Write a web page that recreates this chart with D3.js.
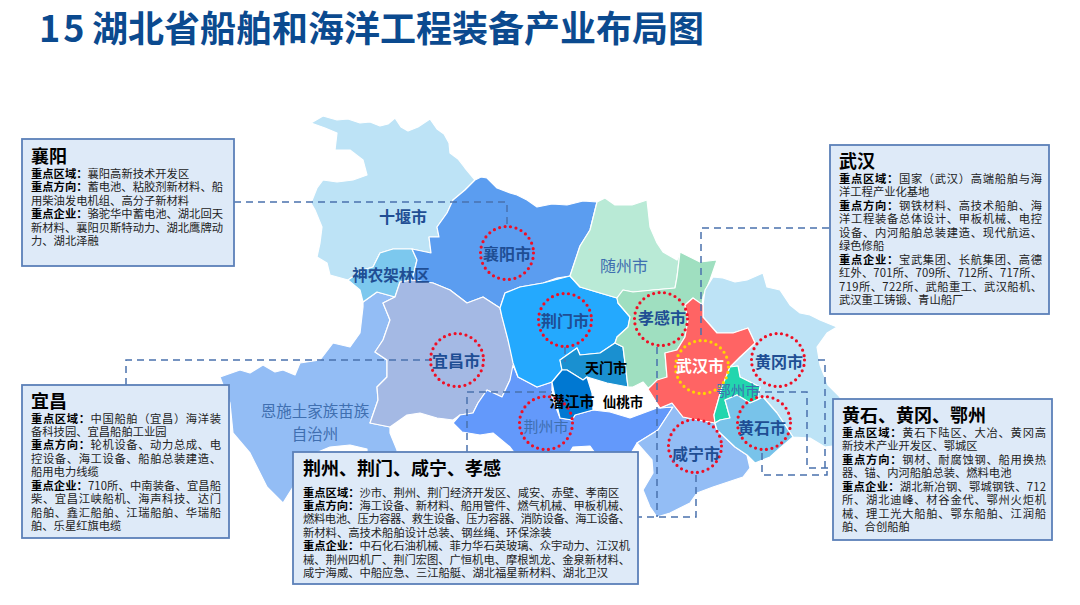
<!DOCTYPE html>
<html>
<head>
<meta charset="utf-8">
<script src="https://cdn.jsdelivr.net/npm/d3@7"></script>
<style>
  html, body { margin: 0; background: #fff; }
  svg { display: block; font-family: "Noto Sans CJK SC", "Noto Sans", sans-serif; }
</style>
</head>
<body>
<svg id="map" width="1080" height="605"></svg>
<script>
// outlines are in the planar map units of the slide, traced by eye
const shiyan = [[311,123],[323,116],[337,120],[348,119],[360,123],[370,122],[380,126],[388,124],[395,118],[401,127],[408,131],[418,127],[430,119],[437,129],[444,134],[449,143],[450,153],[458,159],[465,168],[475,180],[465,190],[453,200],[447,213],[437,227],[439,237],[429,237],[431,253],[412,249],[393,249],[380,253],[373,267],[363,270],[348,280],[330,275],[327,263],[317,257],[320,243],[322,227],[315,210],[311,203],[317,188],[323,180],[337,182],[353,180],[367,175],[363,160],[350,150],[335,150],[337,133],[325,128]];
const shennongjia = [[380,253],[393,249],[412,249],[417,260],[412,280],[400,282],[395,297],[377,292],[363,302],[360,290],[348,280],[363,270],[373,267]];
const xiangyang = [[475,180],[481,177],[487,178],[497,188],[510,193],[517,195],[527,200],[537,207],[552,204],[567,205],[583,201],[597,202],[590,230],[580,246],[572,270],[570,276],[557,278],[543,283],[520,287],[505,293],[500,308],[483,297],[467,303],[450,290],[433,283],[412,280],[417,260],[412,249],[431,253],[429,237],[439,237],[437,227],[447,213],[453,200],[465,190]];
const yichang = [[500,308],[510,347],[515,365],[510,380],[502,397],[487,390],[478,403],[473,413],[460,415],[453,420],[437,418],[420,413],[407,415],[390,427],[370,423],[378,400],[377,387],[387,377],[387,360],[375,352],[383,340],[390,320],[383,303],[395,297],[400,282],[412,280],[433,283],[450,290],[467,303],[483,297]];
const enshi = [[363,302],[377,292],[395,297],[383,303],[390,320],[383,340],[375,352],[387,360],[387,377],[377,387],[378,400],[370,423],[390,427],[390,433],[397,450],[397,470],[367,470],[367,449],[350,445],[330,447],[318,452],[300,470],[293,487],[283,503],[267,487],[257,467],[250,453],[233,433],[230,403],[220,377],[240,370],[250,373],[263,365],[275,372],[283,370],[295,375],[300,363],[320,360],[333,343],[350,347],[360,333],[363,307]];
const jingzhou = [[453,423],[460,415],[473,413],[478,403],[487,390],[502,397],[510,380],[513,365],[518,377],[537,387],[552,382],[552,397],[560,418],[572,420],[575,415],[593,410],[610,412],[630,418],[657,408],[673,407],[658,430],[637,443],[627,460],[600,460],[590,446],[573,447],[565,460],[520,460],[510,447],[493,433],[480,435],[468,433],[462,432]];
const jingmen = [[500,308],[505,293],[520,287],[543,283],[570,276],[580,287],[600,293],[617,298],[618,303],[630,317],[628,327],[617,337],[615,343],[600,353],[580,355],[577,348],[560,360],[562,370],[552,382],[537,387],[518,377],[513,363],[508,340],[502,317]];
const tianmen = [[560,360],[577,348],[580,355],[600,353],[615,343],[623,347],[625,363],[628,387],[607,383],[587,377],[583,380],[567,370],[562,370]];
const qianjiang = [[562,370],[567,370],[583,380],[587,377],[592,393],[593,410],[575,415],[572,420],[560,418],[555,397],[552,382]];
const xiaogan = [[617,298],[623,290],[633,292],[653,290],[675,288],[677,277],[680,252],[690,257],[700,262],[717,260],[710,280],[703,297],[702,305],[693,298],[685,305],[688,320],[685,337],[677,350],[665,353],[667,377],[648,388],[643,382],[633,387],[628,387],[625,363],[623,347],[615,343],[617,337],[628,327],[630,317],[618,303]];
const suizhou = [[597,202],[605,198],[615,205],[632,205],[647,200],[650,227],[657,243],[663,252],[677,260],[680,252],[677,277],[675,288],[653,290],[633,292],[623,290],[617,298],[600,293],[580,287],[570,276],[572,270],[580,246],[590,230]];
const wuhan = [[693,298],[703,305],[703,317],[717,333],[733,333],[748,328],[755,343],[740,357],[730,367],[722,387],[714,415],[715,423],[693,419],[683,417],[672,403],[660,408],[648,389],[657,380],[667,377],[665,353],[677,350],[685,337],[688,320],[685,305]];
const huanggang = [[703,305],[705,290],[713,277],[723,278],[735,282],[747,280],[763,273],[767,287],[780,290],[790,305],[800,313],[810,315],[820,320],[837,327],[827,333],[817,347],[820,365],[828,385],[840,397],[840,445],[825,447],[810,438],[793,437],[777,413],[763,397],[757,400],[760,387],[740,377],[738,366],[730,367],[740,357],[755,343],[748,328],[733,333],[717,333],[703,317]];
const ezhou = [[730,367],[738,366],[740,377],[760,387],[757,400],[750,403],[737,395],[725,400],[730,418],[720,420],[715,423],[714,415],[722,387]];
const huangshi = [[725,400],[737,395],[750,403],[757,400],[763,397],[777,413],[793,437],[780,448],[770,457],[755,463],[747,455],[735,447],[717,430],[715,423],[720,420],[730,418]];
const xianning = [[660,408],[672,403],[683,417],[693,419],[715,423],[717,430],[735,447],[747,455],[750,468],[743,477],[713,487],[697,493],[690,503],[670,513],[657,517],[650,507],[643,490],[653,473],[652,460],[637,443],[658,430],[673,407]];

const regionNames = ["恩施", "十堰", "神农架", "襄阳", "宜昌", "荆州", "荆门", "天门", "潜江", "随州", "孝感", "黄冈", "咸宁", "武汉", "鄂州", "黄石"];
const regionShapes = [enshi, shiyan, shennongjia, xiangyang, yichang, jingzhou, jingmen, tianmen, qianjiang, suizhou, xiaogan, huanggang, xianning, wuhan, ezhou, huangshi];
const regionColors = ["#93bdf5", "#bde3f6", "#7cc8ee", "#5b9df0", "#a4b9e4", "#6399fb", "#24a9fe", "#1a90d0", "#0078d2", "#b9ead6", "#9fdfc0", "#bde3f6", "#93bdf5", "#ff6464", "#22d6ae", "#78c3ea"];

// anchor of each label, circle or no circle
const cityNames = ["十堰市", "神农架林区", "襄阳市", "宜昌市", "荆门市", "孝感市", "随州市", "天门市", "仙桃市", "潜江市", "武汉市", "黄冈市", "鄂州市", "黄石市", "咸宁市", "荆州市"];
const cityPoints = [[403,216],[391,274],[507,253],[456,360],[565,320],[662,317],[624,265],[606,367],[623,401],[572,400],[700,365],[779,361],[738,389],[762,427],[696,453],[546,425]];
const citySizes = [16, 15.5, 16, 16, 16, 16, 16, 14, 13.5, 15, 16, 16, 14.5, 16, 16, 15];
const plainCities = ["随州市", "鄂州市", "荆州市"];
const blackCities = ["天门市", "仙桃市", "潜江市"];

const ringNames = ["襄阳市", "宜昌市", "荆门市", "孝感市", "武汉市", "黄冈市", "黄石市", "咸宁市", "荆州市"];
const ringCentres = [[507,253],[457,360],[565,320],[661,319],[702,367],[778,360],[764,423],[695,446],[546,423]];

const leaderLines = [
  [[234,202],[507,202],[507,227]],
  [[126,385],[126,360],[433,360]],
  [[829,228],[701,228],[701,340]],
  [[467,452],[467,392],[552,392]],
  [[565,347],[565,362]],
  [[657,347],[657,517]],
  [[696,475],[696,517],[638,517]],
  [[753,392],[807,392],[807,468],[833,468]],
  [[818,360],[825,360],[825,468]],
  [[762,453],[762,475],[827,475],[827,468]]
];

const boxTitles = ["襄阳", "宜昌", "荆州、荆门、咸宁、孝感", "武汉", "黄石、黄冈、鄂州"];
const boxRects = [[22,139,234,266],[22,385,229,538],[293,452,638,584],[830,145,1049,314],[833,399,1052,540]];
const boxTitleRows = [155, 400, 467, 160, 414];
const boxFirstRows = [173, 417.5, 491.5, 178, 432];
const boxTextRight = [223, 221, 630, 1042, 1046];
const xiangyangLines = ["重点区域：襄阳高新技术开发区", "重点方向：蓄电池、粘胶剂新材料、船", "用柴油发电机组、高分子新材料", "重点企业：骆驼华中蓄电池、湖北回天", "新材料、襄阳贝斯特动力、湖北鹰牌动", "力、湖北泽融"];
const yichangLines = ["重点区域：中国船舶（宜昌）海洋装", "备科技园、宜昌船舶工业园", "重点方向：轮机设备、动力总成、电", "控设备、海工设备、船舶总装建造、", "船用电力线缆", "重点企业：710所、中南装备、宜昌船", "柴、宜昌江峡船机、海声科技、达门", "船舶、鑫汇船舶、江瑞船舶、华瑞船", "舶、乐星红旗电缆"];
const jingLines = ["重点区域：沙市、荆州、荆门经济开发区、咸安、赤壁、孝南区", "重点方向：海工设备、新材料、船用管件、燃气机械、甲板机械、", "燃料电池、压力容器、救生设备、压力容器、消防设备、海工设备、", "新材料、高技术船舶设计总装、钢丝绳、环保涂装", "重点企业：中石化石油机械、菲力华石英玻璃、众宇动力、江汉机", "械、荆州四机厂、荆门宏图、广恒机电、摩根凯龙、金泉新材料、", "咸宁海威、中船应急、三江船艇、湖北福星新材料、湖北卫汉"];
const wuhanLines = ["重点区域：国家（武汉）高端船舶与海", "洋工程产业化基地", "重点方向：钢铁材料、高技术船舶、海", "洋工程装备总体设计、甲板机械、电控", "设备、内河船舶总装建造、现代航运、", "绿色修船", "重点企业：宝武集团、长航集团、高德", "红外、701所、709所、712所、717所、", "719所、722所、武船重工、武汉船机、", "武汉重工铸锻、青山船厂"];
const huangLines = ["重点区域：黄石下陆区、大冶、黄冈高", "新技术产业开发区、鄂城区", "重点方向：钢材、耐腐蚀钢、船用换热", "器、锚、内河船舶总装、燃料电池", "重点企业：湖北新冶钢、鄂城钢铁、712", "所、湖北迪峰、材谷金代、鄂州火炬机", "械、理工光大船舶、鄂东船舶、江润船", "舶、合创船舶"];
const boxLines = [xiangyangLines, yichangLines, jingLines, wuhanLines, huangLines];

const svg = d3.select("#map");
const projection = d3.geoIdentity();
const path = d3.geoPath(projection);

const title = svg.append("text")
  .attr("y", 42)
  .attr("font-size", 36).attr("font-weight", 700)
  .attr("fill", "#0b4a8f");
title.append("tspan").attr("x", 39).attr("letter-spacing", 3).text("15");
title.append("tspan").attr("x", 92).text("湖北省船舶和海洋工程装备产业布局图");

// rings must be closed for geoPath
const regions = regionNames.map((name, i) => ({
  type: "Feature",
  properties: { name, color: regionColors[i] },
  geometry: { type: "Polygon", coordinates: [[...regionShapes[i], regionShapes[i][0]]] }
}));

svg.append("g").selectAll("path")
  .data(regions)
  .join("path")
  .attr("d", path)
  .attr("fill", d => d.properties.color)
  .attr("stroke", "#fff")
  .attr("stroke-width", 1.2)
  .attr("stroke-linejoin", "round");

const lineGen = d3.line().x(d => projection(d)[0]).y(d => projection(d)[1]);
svg.append("g").selectAll("path")
  .data(leaderLines)
  .join("path")
  .attr("d", lineGen)
  .attr("fill", "none")
  .attr("stroke", "#4a72ad")
  .attr("stroke-width", 1.5)
  .attr("stroke-dasharray", "7 5");

svg.append("g").selectAll("circle")
  .data(ringNames)
  .join("circle")
  .attr("cx", (d, i) => projection(ringCentres[i])[0])
  .attr("cy", (d, i) => projection(ringCentres[i])[1])
  .attr("r", 26.5)
  .attr("fill", "none")
  .attr("stroke", d => d === "武汉市" ? "#ffd400" : "#ee0f25")
  .attr("stroke-width", 3.2)
  .attr("stroke-linecap", "round")
  .attr("stroke-dasharray", "0 5.55");

svg.append("g").selectAll("text")
  .data(cityNames)
  .join("text")
  .attr("x", (d, i) => projection(cityPoints[i])[0])
  .attr("y", (d, i) => projection(cityPoints[i])[1])
  .attr("text-anchor", "middle")
  .attr("dominant-baseline", "central")
  .attr("font-size", (d, i) => citySizes[i])
  .attr("font-weight", d => plainCities.includes(d) ? 400 : 700)
  .attr("fill", d => d === "武汉市" ? "#fff" : blackCities.includes(d) ? "#000" : plainCities.includes(d) ? "#3f6fb0" : "#1f4e94")
  .text(d => d);

svg.append("g").selectAll("text")
  .data(["恩施土家族苗族", "自治州"])
  .join("text")
  .attr("x", 315)
  .attr("y", (d, i) => 410 + i * 23)
  .attr("text-anchor", "middle")
  .attr("dominant-baseline", "central")
  .attr("font-size", 15.5)
  .attr("fill", "#3f6fb0")
  .text(d => d);

const LINE_H = 13.45;
boxTitles.forEach((boxTitle, b) => {
  const [x0, y0, x1, y1] = boxRects[b];
  const g = svg.append("g");
  g.append("rect")
    .attr("x", x0).attr("y", y0)
    .attr("width", x1 - x0).attr("height", y1 - y0)
    .attr("fill", "#deeaf8")
    .attr("stroke", "#5b80b8")
    .attr("stroke-width", 1.8);
  const left = x0 + (b === 2 ? 10 : 9);
  g.append("text")
    .attr("x", left).attr("y", boxTitleRows[b])
    .attr("dominant-baseline", "central")
    .attr("font-size", 18).attr("font-weight", 700)
    .attr("fill", "#000")
    .text(boxTitle);

  boxLines[b].forEach((line, i) => {
    const t = g.append("text")
      .attr("x", left).attr("y", boxFirstRows[b] + i * LINE_H)
      .attr("dominant-baseline", "central")
      .attr("font-size", 11.3)
      .attr("fill", "#222");
    if (line.startsWith("重点")) {
      t.append("tspan").attr("font-weight", 700).attr("fill", "#000").text(line.slice(0, 5));
      t.append("tspan").text(line.slice(5));
    } else {
      t.text(line);
    }
    // full lines are justified to the box like in the slide
    const next = boxLines[b][i + 1];
    if (next && !next.startsWith("重点")) {
      const spare = boxTextRight[b] - left - t.node().getComputedTextLength();
      t.attr("letter-spacing", spare / (line.length - 1));
    }
  });
});
</script>
</body>
</html>
